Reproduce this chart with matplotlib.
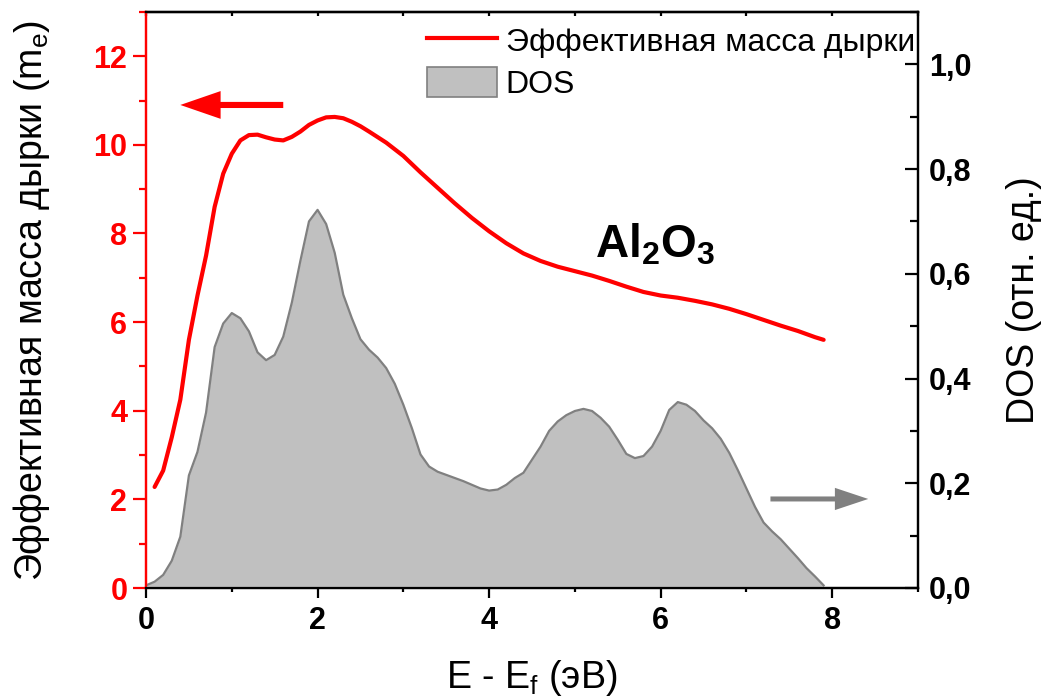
import matplotlib.pyplot as plt
from matplotlib.lines import Line2D
from matplotlib.patches import Patch, FancyArrowPatch
from matplotlib.ticker import MultipleLocator, FuncFormatter

plt.rcParams['font.family'] = ['Liberation Sans', 'DejaVu Sans']
plt.rcParams['mathtext.fontset'] = 'custom'
plt.rcParams['mathtext.rm'] = 'Liberation Sans'
plt.rcParams['mathtext.bf'] = 'Liberation Sans:bold'

# effective hole mass (m_e) vs E - E_f (eV)
energy_mass = [0.1, 0.2, 0.3, 0.4, 0.5, 0.6, 0.7, 0.8, 0.9, 1.0,
               1.1, 1.2, 1.3, 1.4, 1.5, 1.6, 1.7, 1.8, 1.9, 2.0,
               2.1, 2.2, 2.3, 2.4, 2.5, 2.6, 2.8, 3.0, 3.2, 3.4,
               3.6, 3.8, 4.0, 4.2, 4.4, 4.6, 4.8, 5.0, 5.2, 5.4,
               5.6, 5.8, 6.0, 6.2, 6.4, 6.6, 6.8, 7.0, 7.2, 7.4,
               7.6, 7.8, 7.9]
hole_mass = [2.28, 2.65, 3.4, 4.25, 5.6, 6.6, 7.5, 8.6, 9.35, 9.8,
             10.1, 10.22, 10.23, 10.17, 10.12, 10.1, 10.18, 10.3, 10.45, 10.55,
             10.62, 10.63, 10.6, 10.52, 10.42, 10.3, 10.05, 9.75, 9.38, 9.03,
             8.68, 8.35, 8.05, 7.78, 7.55, 7.38, 7.25, 7.15, 7.05, 6.93,
             6.8, 6.68, 6.6, 6.55, 6.48, 6.4, 6.3, 6.18, 6.05, 5.92,
             5.8, 5.66, 5.6]

# density of states (rel. units)
energy_dos = [0.0, 0.1, 0.2, 0.3, 0.4, 0.5, 0.6, 0.7, 0.8, 0.9,
              1.0, 1.1, 1.2, 1.3, 1.4, 1.5, 1.6, 1.7, 1.8, 1.9,
              2.0, 2.1, 2.2, 2.3, 2.4, 2.5, 2.6, 2.7, 2.8, 2.9,
              3.0, 3.1, 3.2, 3.3, 3.4, 3.5, 3.6, 3.7, 3.8, 3.9,
              4.0, 4.1, 4.2, 4.3, 4.4, 4.5, 4.6, 4.7, 4.8, 4.9,
              5.0, 5.1, 5.2, 5.3, 5.4, 5.5, 5.6, 5.7, 5.8, 5.9,
              6.0, 6.1, 6.2, 6.3, 6.4, 6.5, 6.6, 6.7, 6.8, 6.9,
              7.0, 7.1, 7.2, 7.3, 7.4, 7.5, 7.6, 7.7, 7.8, 7.9]
dos = [0.005, 0.012, 0.025, 0.052, 0.098, 0.215, 0.26, 0.335, 0.46, 0.505,
       0.525, 0.515, 0.49, 0.45, 0.435, 0.445, 0.48, 0.545, 0.625, 0.70,
       0.722, 0.695, 0.64, 0.56, 0.515, 0.475, 0.455, 0.44, 0.42, 0.39,
       0.35, 0.305, 0.255, 0.232, 0.222, 0.216, 0.21, 0.204, 0.197, 0.19,
       0.186, 0.188, 0.197, 0.21, 0.22, 0.245, 0.27, 0.30, 0.318, 0.33,
       0.338, 0.342, 0.338, 0.325, 0.308, 0.283, 0.256, 0.248, 0.252, 0.27,
       0.30, 0.34, 0.355, 0.35, 0.338, 0.32, 0.305, 0.285, 0.258, 0.225,
       0.19, 0.155, 0.125, 0.108, 0.093, 0.075, 0.057, 0.038, 0.022, 0.005]

RED = '#ff0000'
FILL = '#c0c0c0'
EDGE = '#808080'

fig = plt.figure(figsize=(10.52, 7.0), dpi=100)
ax = fig.add_axes([0.1388, 0.16, 0.7338, 0.823])
ax2 = ax.twinx()

ax.plot(energy_mass, hole_mass, color=RED, lw=3, solid_capstyle='round')
ax2.fill_between(energy_dos, dos, color=FILL, lw=0)
ax2.plot(energy_dos, dos, color=EDGE, lw=1.6)

ax.set_xlim(0, 9)
ax.set_ylim(0, 13)
ax2.set_ylim(0, 1.1)

ax.xaxis.set_major_locator(MultipleLocator(2))
ax.xaxis.set_minor_locator(MultipleLocator(1))
ax.yaxis.set_major_locator(MultipleLocator(2))
ax.yaxis.set_minor_locator(MultipleLocator(1))
ax2.yaxis.set_major_locator(MultipleLocator(0.2))
ax2.yaxis.set_minor_locator(MultipleLocator(0.1))
ax2.yaxis.set_major_formatter(FuncFormatter(lambda v, p: f'{v:.1f}'.replace('.', ',')))

for a in (ax, ax2):
    for s in a.spines.values():
        s.set_linewidth(1.6)
    a.spines['left'].set_color(RED)

ax.tick_params(axis='x', which='major', direction='out', length=7, width=1.6,
               labelsize=22, pad=6)
ax.tick_params(axis='x', which='minor', direction='out', length=3, width=1.6)
ax.tick_params(axis='y', which='major', direction='out', length=9.5, width=1.6,
               color=RED, labelcolor=RED, labelsize=22, pad=4)
ax.tick_params(axis='y', which='minor', direction='out', length=5, width=1.6,
               color=RED)
ax2.tick_params(axis='y', which='major', direction='in', length=9.5, width=1.6,
                labelsize=22, pad=8)
ax2.tick_params(axis='y', which='minor', direction='in', length=5.5, width=1.6)
for lbl in ax.get_xticklabels() + ax.get_yticklabels() + ax2.get_yticklabels():
    lbl.set_fontweight('bold')

top = ax.secondary_xaxis('top')
top.xaxis.set_major_locator(MultipleLocator(1))
top.tick_params(direction='in', length=3, width=1.6, labeltop=False)
top.spines['top'].set_linewidth(1.6)

ax.set_xlabel('E - E$_\\mathregular{f}$ (эВ)', fontsize=27, labelpad=16)
ax.set_ylabel('Эффективная масса дырки (m$_\\mathregular{e}$)', fontsize=27,
              labelpad=30)
ax2.set_ylabel('DOS (отн. ед.)', fontsize=27, labelpad=25)

handles = [Line2D([], [], color=RED, lw=3),
           Patch(facecolor=FILL, edgecolor=EDGE, lw=1.2)]
ax2.legend(handles, ['Эффективная масса дырки', 'DOS'], loc='upper right',
           bbox_to_anchor=(1.0, 0.982), frameon=False, fontsize=23,
           handlelength=2.2, handleheight=1.05, handletextpad=0.27,
           labelspacing=0.28, borderaxespad=0, borderpad=0.1)

ax.text(5.94, 7.75, 'Al$_\\mathbf{2}$O$_\\mathbf{3}$', fontsize=33,
        fontweight='bold', ha='center', va='center')

# direction arrows: red -> left axis, grey -> right axis
ax.add_patch(FancyArrowPatch(
    (1.6, 10.9), (0.4, 10.9), mutation_scale=20, shrinkA=0, shrinkB=0,
    arrowstyle='simple,head_length=1.45,head_width=1.0,tail_width=0.22',
    color=RED, lw=0, capstyle='round'))
ax2.add_patch(FancyArrowPatch(
    (7.28, 0.17), (8.42, 0.17), mutation_scale=20, shrinkA=0, shrinkB=0,
    arrowstyle='simple,head_length=1.2,head_width=0.8,tail_width=0.18',
    color=EDGE, lw=0, capstyle='round', clip_on=False))

fig.savefig('out.png', dpi=100)
